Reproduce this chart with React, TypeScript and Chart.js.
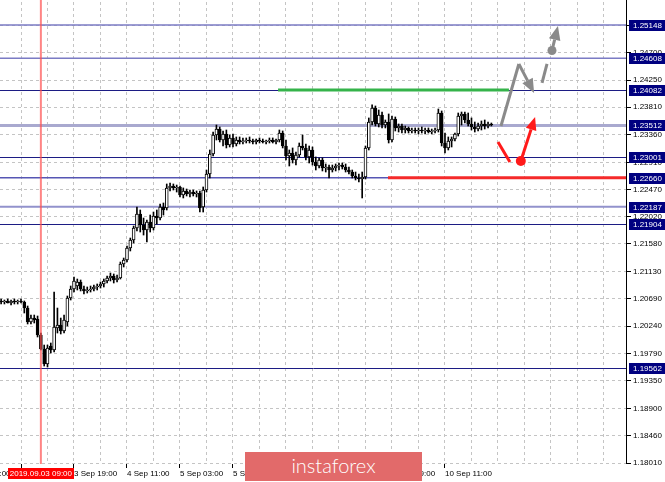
import React, { useEffect, useRef } from "react";
import { Chart, registerables } from "chart.js";

Chart.register(...registerables);

// EURUSD-like H1 candles. Bar number 0 = 3 Sep 03:00; first visible bar is -6.
const FIRST_BAR = -6;

const opens = [
  1.20651, 1.20634, 1.20651, 1.20618, 1.20651, 1.20634, 1.20651, 1.20634, 1.20536, 1.20308,
  1.20373, 1.20357, 1.20096, 1.19868, 1.19624, 1.19917, 1.19852, 1.20210, 1.20259, 1.20162,
  1.20308, 1.20699, 1.20846, 1.20895, 1.20960, 1.20846, 1.20814, 1.20830, 1.20846, 1.20879,
  1.20895, 1.20928, 1.20977, 1.21025, 1.21058, 1.20993, 1.21025, 1.21254, 1.21319, 1.21514,
  1.21645, 1.21840, 1.22069, 1.21889, 1.21808, 1.21938, 1.21840, 1.22036, 1.22003, 1.22183,
  1.22167, 1.22493, 1.22525, 1.22493, 1.22509, 1.22378, 1.22444, 1.22395, 1.22427, 1.22395,
  1.22411, 1.22183, 1.22460, 1.22721, 1.23047, 1.23356, 1.23454, 1.23275, 1.23373, 1.23193,
  1.23308, 1.23210, 1.23275, 1.23242, 1.23259, 1.23275, 1.23259, 1.23242, 1.23275, 1.23259,
  1.23242, 1.23259, 1.23275, 1.23242, 1.23275, 1.23389, 1.23177, 1.23014, 1.23063, 1.22949,
  1.23030, 1.23177, 1.23145, 1.22998, 1.23112, 1.22916, 1.22851, 1.22949, 1.22819, 1.22835,
  1.22786, 1.22819, 1.22851, 1.22867, 1.22835, 1.22786, 1.22753, 1.22688, 1.22656, 1.22639,
  1.22672, 1.23145, 1.23568, 1.23797, 1.23536, 1.23682, 1.23519, 1.23568, 1.23275, 1.23617,
  1.23471, 1.23503, 1.23438, 1.23471, 1.23422, 1.23438, 1.23422, 1.23438, 1.23422, 1.23438,
  1.23405, 1.23422, 1.23438, 1.23715, 1.23226, 1.23145, 1.23259, 1.23291, 1.23373, 1.23666,
  1.23699, 1.23601, 1.23536, 1.23487, 1.23454, 1.23503, 1.23536, 1.23503, 1.23536,
];

const highs = [
  1.20683, 1.20667, 1.20683, 1.20667, 1.20683, 1.20667, 1.20683, 1.20651, 1.20569, 1.20422,
  1.20422, 1.20406, 1.20129, 1.19933, 1.19933, 1.19966, 1.20797, 1.20536, 1.20373, 1.20422,
  1.20732, 1.20895, 1.21042, 1.21009, 1.20993, 1.20895, 1.20879, 1.20895, 1.20911, 1.20928,
  1.20960, 1.21009, 1.21058, 1.21107, 1.21091, 1.21074, 1.21286, 1.21351, 1.21547, 1.21677,
  1.21873, 1.22183, 1.22134, 1.22003, 1.21971, 1.22052, 1.22101, 1.22134, 1.22232, 1.22248,
  1.22558, 1.22574, 1.22558, 1.22541, 1.22525, 1.22493, 1.22476, 1.22460, 1.22460, 1.22444,
  1.22444, 1.22509, 1.22786, 1.23112, 1.23405, 1.23519, 1.23487, 1.23422, 1.23438, 1.23356,
  1.23373, 1.23324, 1.23324, 1.23308, 1.23308, 1.23324, 1.23291, 1.23291, 1.23308, 1.23291,
  1.23275, 1.23308, 1.23308, 1.23291, 1.23438, 1.23422, 1.23275, 1.23112, 1.23145, 1.23079,
  1.23226, 1.23356, 1.23210, 1.23177, 1.23161, 1.22998, 1.22982, 1.22982, 1.22884, 1.22867,
  1.22867, 1.22884, 1.22900, 1.22900, 1.22884, 1.22835, 1.22786, 1.22753, 1.22721, 1.22753,
  1.23177, 1.23634, 1.23846, 1.23829, 1.23764, 1.23731, 1.23601, 1.23699, 1.23666, 1.23650,
  1.23536, 1.23536, 1.23503, 1.23487, 1.23471, 1.23471, 1.23471, 1.23487, 1.23471, 1.23471,
  1.23454, 1.23471, 1.23780, 1.23748, 1.23389, 1.23324, 1.23324, 1.23389, 1.23715, 1.23731,
  1.23731, 1.23715, 1.23634, 1.23568, 1.23552, 1.23585, 1.23601, 1.23568, 1.23552,
];

const lows = [
  1.20602, 1.20602, 1.20618, 1.20585, 1.20602, 1.20602, 1.20618, 1.20455, 1.20276, 1.20276,
  1.20292, 1.20064, 1.19852, 1.19591, 1.19575, 1.19803, 1.19819, 1.20129, 1.20113, 1.20129,
  1.20243, 1.20667, 1.20797, 1.20830, 1.20814, 1.20765, 1.20781, 1.20797, 1.20814, 1.20830,
  1.20862, 1.20879, 1.20944, 1.20977, 1.20944, 1.20960, 1.21009, 1.21205, 1.21286, 1.21466,
  1.21596, 1.21792, 1.21775, 1.21726, 1.21612, 1.21775, 1.21808, 1.21906, 1.21971, 1.22052,
  1.22134, 1.22444, 1.22460, 1.22427, 1.22346, 1.22330, 1.22362, 1.22346, 1.22362, 1.22346,
  1.22101, 1.22101, 1.22427, 1.22656, 1.23014, 1.23275, 1.23242, 1.23177, 1.23145, 1.23161,
  1.23161, 1.23177, 1.23210, 1.23210, 1.23226, 1.23226, 1.23210, 1.23210, 1.23226, 1.23226,
  1.23210, 1.23226, 1.23226, 1.23210, 1.23242, 1.23145, 1.22949, 1.22851, 1.22900, 1.22867,
  1.22998, 1.23112, 1.22949, 1.22900, 1.22867, 1.22786, 1.22819, 1.22770, 1.22753, 1.22656,
  1.22753, 1.22770, 1.22786, 1.22802, 1.22753, 1.22721, 1.22656, 1.22623, 1.22590, 1.22330,
  1.22639, 1.23112, 1.23519, 1.23503, 1.23487, 1.23471, 1.23471, 1.23226, 1.23242, 1.23422,
  1.23405, 1.23389, 1.23389, 1.23389, 1.23389, 1.23389, 1.23373, 1.23389, 1.23373, 1.23389,
  1.23373, 1.23389, 1.23405, 1.23177, 1.23063, 1.23112, 1.23161, 1.23259, 1.23340, 1.23519,
  1.23552, 1.23503, 1.23438, 1.23405, 1.23422, 1.23438, 1.23454, 1.23471, 1.23503,
];

const closes = [
  1.20634, 1.20651, 1.20618, 1.20651, 1.20634, 1.20651, 1.20634, 1.20536, 1.20308, 1.20373,
  1.20341, 1.20096, 1.19868, 1.19624, 1.19884, 1.19852, 1.20227, 1.20259, 1.20162, 1.20341,
  1.20699, 1.20846, 1.20977, 1.20960, 1.20846, 1.20814, 1.20830, 1.20846, 1.20879, 1.20895,
  1.20928, 1.20977, 1.21025, 1.21058, 1.20993, 1.21025, 1.21254, 1.21319, 1.21514, 1.21645,
  1.21840, 1.22069, 1.21889, 1.21808, 1.21938, 1.21840, 1.22036, 1.22003, 1.22183, 1.22134,
  1.22493, 1.22525, 1.22493, 1.22509, 1.22378, 1.22444, 1.22395, 1.22427, 1.22395, 1.22411,
  1.22167, 1.22460, 1.22721, 1.23047, 1.23356, 1.23454, 1.23275, 1.23373, 1.23193, 1.23308,
  1.23210, 1.23275, 1.23242, 1.23259, 1.23275, 1.23259, 1.23242, 1.23275, 1.23259, 1.23242,
  1.23259, 1.23275, 1.23242, 1.23275, 1.23389, 1.23177, 1.23014, 1.23063, 1.22949, 1.23030,
  1.23177, 1.23145, 1.22998, 1.23112, 1.22916, 1.22851, 1.22949, 1.22819, 1.22835, 1.22786,
  1.22819, 1.22851, 1.22867, 1.22835, 1.22786, 1.22753, 1.22688, 1.22656, 1.22639, 1.22672,
  1.23145, 1.23568, 1.23797, 1.23536, 1.23682, 1.23519, 1.23568, 1.23275, 1.23617, 1.23471,
  1.23503, 1.23438, 1.23471, 1.23422, 1.23438, 1.23422, 1.23438, 1.23422, 1.23438, 1.23405,
  1.23422, 1.23438, 1.23715, 1.23226, 1.23145, 1.23259, 1.23291, 1.23373, 1.23666, 1.23699,
  1.23601, 1.23536, 1.23487, 1.23454, 1.23503, 1.23536, 1.23503, 1.23536, 1.23519,
];

// Time axis
const timeTickBars = [-16, 0, 16, 32, 48, 64, 80, 96, 112, 128];
const timeTickLabels = [
  "2 Sep 11:00", "3 Sep 03:00", "3 Sep 19:00", "4 Sep 11:00", "5 Sep 03:00",
  "5 Sep 19:00", "6 Sep 11:00", "9 Sep 03:00", "9 Sep 19:00", "10 Sep 11:00",
];
const gridBars = [0, 8, 16, 24, 32, 40, 48, 56, 64, 72, 80, 88, 96, 104, 112, 120, 128, 136, 144, 152, 160, 168, 176];

// Price axis
const priceTicks = [
  1.1801, 1.1846, 1.189, 1.1935, 1.1979, 1.2024, 1.2069, 1.2113, 1.2158,
  1.2202, 1.2247, 1.2291, 1.2336, 1.2381, 1.2425, 1.247, 1.2514,
];

// Horizontal levels
const levelPrices = [1.25148, 1.24608, 1.24082, 1.23512, 1.23001, 1.2266, 1.22187, 1.21904, 1.19562];

// Crosshair
const crosshairBar = 6;
const crosshairLabel = "2019.09.03 09:00";

// Annotations (bar number, price)
const greenLineBars = [77.6, 147.3];
const greenLinePrice = 1.2409;
const redLineBars = [110.8, 183];
const redLinePrice = 1.2266;
const grayPathBars = [144.9, 150.3, 154.9];
const grayPathPrices = [1.23503, 1.24514, 1.24041];
const grayDashBars = [157.3, 158.8];
const grayDashPrices = [1.24204, 1.24514];
const grayDotPoint = [160.3, 1.24733];
const grayArrowTip = [162.1, 1.25133];
const redSegBars = [144.0, 147.6];
const redSegPrices = [1.23242, 1.22916];
const redDotPoint = [150.9, 1.22933];
const redArrowTip = [155.2, 1.2365];

const LEVEL_STYLE = [
  { color: "#7b7bc4", width: 1.5 },
  { color: "#7b7bc4", width: 1.5 },
  { color: "#1c1c84", width: 1 },
  { color: "#a9a9cf", width: 3 },
  { color: "#1c1c84", width: 1 },
  { color: "#5656b4", width: 1.5 },
  { color: "#9292cc", width: 2 },
  { color: "#1c1c84", width: 1 },
  { color: "#1c1c84", width: 1 },
];

const FONT = "Liberation Sans, Arial, sans-serif";

function drawArrow(ctx: CanvasRenderingContext2D, x1: number, y1: number, x2: number, y2: number, color: string, width: number, head: number) {
  const ang = Math.atan2(y2 - y1, x2 - x1);
  const bx = x2 - head * Math.cos(ang);
  const by = y2 - head * Math.sin(ang);
  ctx.strokeStyle = color;
  ctx.lineWidth = width;
  ctx.beginPath();
  ctx.moveTo(x1, y1);
  ctx.lineTo(bx, by);
  ctx.stroke();
  ctx.fillStyle = color;
  const hw = head * 0.42;
  ctx.beginPath();
  ctx.moveTo(x2, y2);
  ctx.lineTo(bx + hw * Math.sin(ang), by - hw * Math.cos(ang));
  ctx.lineTo(bx - hw * Math.sin(ang), by + hw * Math.cos(ang));
  ctx.closePath();
  ctx.fill();
}

const overlayPlugin = {
  id: "mtOverlay",
  beforeDatasetsDraw(chart: any) {
    const { ctx, chartArea: a, scales } = chart;
    const y = scales.y;
    ctx.save();
    levelPrices.forEach((p, i) => {
      const st = LEVEL_STYLE[i];
      let py = y.getPixelForValue(p);
      if (st.width === 1) py = Math.round(py) + 0.5;
      ctx.strokeStyle = st.color;
      ctx.lineWidth = st.width;
      ctx.beginPath();
      ctx.moveTo(a.left, py);
      ctx.lineTo(a.right, py);
      ctx.stroke();
    });
    ctx.restore();
  },
  afterDatasetsDraw(chart: any) {
    const { ctx, chartArea: a, scales } = chart;
    const x = scales.x;
    const y = scales.y;
    const X = (v: number) => x.getPixelForValue(v);
    const Y = (v: number) => y.getPixelForValue(v);
    ctx.save();
    ctx.lineCap = "butt";
    // crosshair vertical
    ctx.strokeStyle = "rgba(255,80,80,0.7)";
    ctx.lineWidth = 2;
    ctx.beginPath();
    ctx.moveTo(X(crosshairBar), 0);
    ctx.lineTo(X(crosshairBar), a.bottom);
    ctx.stroke();

    // green line
    ctx.strokeStyle = "#35b34a";
    ctx.lineWidth = 3;
    ctx.beginPath();
    ctx.moveTo(X(greenLineBars[0]), Y(greenLinePrice));
    ctx.lineTo(X(greenLineBars[1]), Y(greenLinePrice));
    ctx.stroke();

    // red line
    ctx.strokeStyle = "#f52a2a";
    ctx.lineWidth = 3;
    ctx.beginPath();
    ctx.moveTo(X(redLineBars[0]), Y(redLinePrice));
    ctx.lineTo(Math.min(X(redLineBars[1]), a.right), Y(redLinePrice));
    ctx.stroke();

    // gray zigzag with arrow
    const gray = "#8a8a8a";
    ctx.strokeStyle = gray;
    ctx.lineWidth = 3;
    ctx.beginPath();
    ctx.moveTo(X(grayPathBars[0]), Y(grayPathPrices[0]));
    ctx.lineTo(X(grayPathBars[1]), Y(grayPathPrices[1]));
    ctx.stroke();
    drawArrow(ctx, X(grayPathBars[1]), Y(grayPathPrices[1]), X(grayPathBars[2]), Y(grayPathPrices[2]), gray, 3, 14);

    // gray dashed part
    ctx.strokeStyle = gray;
    ctx.lineWidth = 3;
    ctx.beginPath();
    ctx.moveTo(X(grayDashBars[0]), Y(grayDashPrices[0]));
    ctx.lineTo(X(grayDashBars[1]), Y(grayDashPrices[1]));
    ctx.stroke();
    ctx.fillStyle = gray;
    ctx.beginPath();
    ctx.arc(X(grayDotPoint[0]), Y(grayDotPoint[1]), 4.5, 0, Math.PI * 2);
    ctx.fill();
    drawArrow(ctx, X(grayDotPoint[0]), Y(grayDotPoint[1]), X(grayArrowTip[0]), Y(grayArrowTip[1]), gray, 3, 14);

    // red path
    const red = "#ff1a1a";
    ctx.strokeStyle = red;
    ctx.lineWidth = 3;
    ctx.beginPath();
    ctx.moveTo(X(redSegBars[0]), Y(redSegPrices[0]));
    ctx.lineTo(X(redSegBars[1]), Y(redSegPrices[1]));
    ctx.stroke();
    ctx.fillStyle = red;
    ctx.beginPath();
    ctx.arc(X(redDotPoint[0]), Y(redDotPoint[1]), 5, 0, Math.PI * 2);
    ctx.fill();
    drawArrow(ctx, X(redDotPoint[0]), Y(redDotPoint[1]), X(redArrowTip[0]), Y(redArrowTip[1]), red, 3, 13);
    ctx.restore();
  },
  afterDraw(chart: any) {
    const { ctx, chartArea: a, scales } = chart;
    const x = scales.x;
    const y = scales.y;
    ctx.save();
    // right frame
    ctx.strokeStyle = "#000";
    ctx.lineWidth = 1;
    ctx.beginPath();
    ctx.moveTo(Math.round(a.right) - 0.5, 0);
    ctx.lineTo(Math.round(a.right) - 0.5, a.bottom);
    ctx.stroke();

    ctx.font = `8px ${FONT}`;
    ctx.textBaseline = "middle";
    // partially visible label left of the plot
    const lx = x.getPixelForValue(timeTickBars[0]);
    ctx.fillStyle = "#000";
    ctx.textAlign = "left";
    ctx.fillText(timeTickLabels[0], lx, a.bottom + 9.5);

    // level labels
    levelPrices.forEach((p) => {
      const py = Math.round(y.getPixelForValue(p));
      ctx.fillStyle = "#000080";
      ctx.fillRect(a.right + 2, py - 5, 665 - a.right - 2, 11);
      ctx.fillStyle = "#fff";
      ctx.textAlign = "left";
      ctx.fillText(p.toFixed(5), a.right + 6, py + 0.5);
    });

    // crosshair time label
    const cx = x.getPixelForValue(crosshairBar);
    const tw = ctx.measureText(crosshairLabel).width + 4;
    ctx.fillStyle = "#ff0000";
    ctx.fillRect(Math.round(cx - tw / 2), a.bottom + 4, Math.round(tw), 11);
    ctx.fillStyle = "#fff";
    ctx.textAlign = "center";
    ctx.fillText(crosshairLabel, cx, a.bottom + 9.5);
    ctx.restore();
  },
};

export default function App() {
  const ref = useRef<HTMLCanvasElement>(null);
  useEffect(() => {
    const bars = opens.map((_, k) => k + FIRST_BAR);
    const chart = new Chart(ref.current as HTMLCanvasElement, {
      type: "bar",
      data: {
        datasets: [
          {
            label: "bodies",
            data: bars.map((b, k) => ({ x: b, y: [opens[k], closes[k]] })) as any,
            backgroundColor: (c: any) => (closes[c.dataIndex] >= opens[c.dataIndex] ? "#ffffff" : "#000000"),
            borderColor: "#000000",
            borderWidth: 1,
            borderSkipped: false,
            barThickness: 3,
            minBarLength: 1,
            grouped: false,
            order: 0,
          } as any,
          {
            label: "wicks",
            data: bars.map((b, k) => ({ x: b, y: [lows[k], highs[k]] })) as any,
            backgroundColor: "#000000",
            borderWidth: 0,
            barThickness: 1,
            grouped: false,
            order: 1,
          } as any,
        ],
      },
      options: {
        animation: false,
        responsive: false,
        devicePixelRatio: 1,
        events: [],
        layout: { padding: { top: 2, left: 0, right: 0, bottom: 0 } },
        plugins: { legend: { display: false }, tooltip: { enabled: false } },
        scales: {
          x: {
            type: "linear",
            position: "bottom",
            offset: false,
            min: -6.34,
            max: 182.95,
            afterBuildTicks: (s: any) => {
              s.ticks = gridBars.map((v) => ({ value: v }));
            },
            afterFit: (s: any) => {
              s.height = 18;
              s.paddingLeft = 0;
              s.paddingRight = 0;
            },
            ticks: {
              autoSkip: false,
              maxRotation: 0,
              align: "start",
              padding: 1,
              color: "#000",
              font: { family: FONT, size: 8 },
              callback: (v: any) => {
                const i = timeTickBars.indexOf(Number(v));
                return i >= 0 ? timeTickLabels[i] : "";
              },
            },
            grid: {
              offset: false,
              color: "#c4c4c4",
              lineWidth: 1,
              tickLength: 4,
              tickColor: (c: any) => (c.tick && timeTickBars.indexOf(c.tick.value) >= 0 ? "#000" : "rgba(0,0,0,0)"),
              tickBorderDash: [],
            },
            border: { display: false, dash: [3, 3] },
          } as any,
          y: {
            type: "linear",
            position: "right",
            min: 1.17994,
            max: 1.25524,
            afterBuildTicks: (s: any) => {
              s.ticks = priceTicks.map((v) => ({ value: v }));
            },
            afterFit: (s: any) => {
              s.width = 38;
              s.paddingTop = 0;
              s.paddingBottom = 0;
            },
            ticks: {
              autoSkip: false,
              padding: 2,
              color: "#000",
              font: { family: FONT, size: 8 },
              callback: (v: any) => Number(v).toFixed(5),
            },
            grid: {
              color: "#c4c4c4",
              lineWidth: 1,
              tickLength: 4,
              tickColor: "#000",
              tickBorderDash: [],
            },
            border: { display: false, dash: [3, 3] },
          } as any,
        },
      },
      plugins: [overlayPlugin],
    });
    return () => chart.destroy();
  }, []);

  return (
    <div style={{ position: "fixed", left: 0, top: 0, width: 665, height: 482, background: "#fff", overflow: "hidden" }}>
      <canvas ref={ref} width={665} height={482} style={{ display: "block" }} />
      <div
        style={{
          position: "absolute",
          left: 245,
          top: 452,
          width: 177,
          height: 29,
          background: "#e26a6a",
          color: "#fff",
          fontFamily: "Lato, 'Open Sans', sans-serif",
          fontWeight: 300,
          fontSize: 20,
          lineHeight: "27px",
          textAlign: "center",
          letterSpacing: 0,
        }}
      >
        instaforex
      </div>
    </div>
  );
}
